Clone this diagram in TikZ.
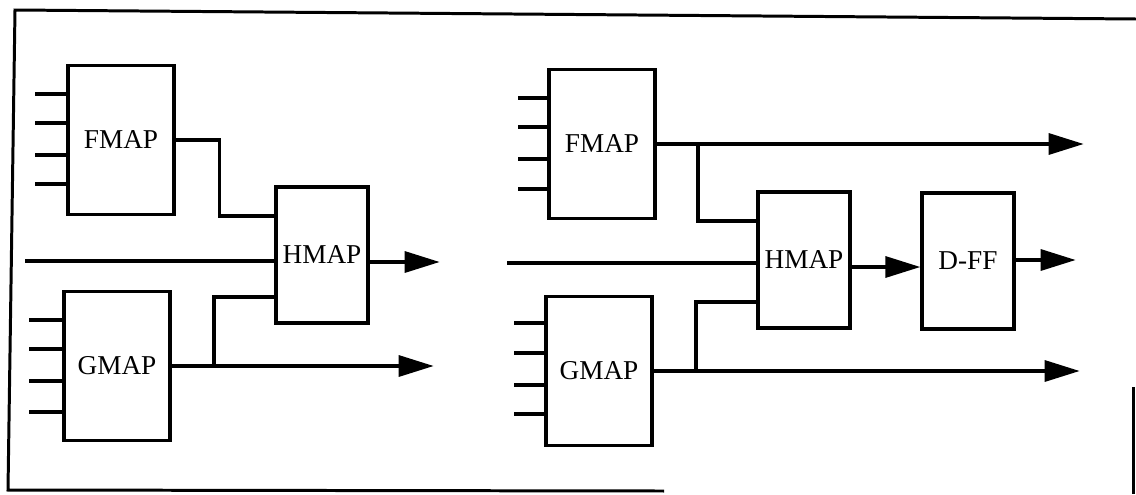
\documentclass[tikz,border=0pt]{standalone}
\usepackage{fontspec}
\setmainfont{Liberation Serif}
\usetikzlibrary{arrows.meta,positioning}

\begin{document}
\begin{tikzpicture}[x=0.02cm, y=-0.02cm,
  blk/.style={draw, line width=1.9pt, inner sep=0pt, minimum width=2.12cm, minimum height=2.98cm,
              font=\fontsize{15.5}{18}\selectfont},
  hblk/.style={blk, minimum width=1.84cm, minimum height=2.72cm},
  sig/.style={line width=1.9pt},
  sigarrow/.style={sig, -{Triangle[length=7mm,width=4.2mm]}}]
\useasboundingbox (0,0) rectangle (1136,494);
\draw[line width=1.7pt] (1136,19) -- (15,10) -- (8,490) -- (664,491);
\draw[line width=1.7pt] (1133,387) -- (1133,494);

\node[blk] (fl) at (121,140) {FMAP};
\node[blk] (gl) at (117,366) {GMAP};
\node[hblk] (hl) at (322,255) {HMAP};
\foreach \y in {94,123,155,184} \draw[sig] (fl.west |- 0,\y) -- ++(-31,0);
\foreach \y in {320,349,381,412} \draw[sig] (gl.west |- 0,\y) -- ++(-33,0);
\draw[sig] (fl.east) -- ++(44,0) |- (hl.west |- 0,216);
\draw[sig] (hl.west |- 0,261) -- ++(-249,0);
\draw[sigarrow] (hl.east |- 0,262) -- ++(70,0);
\draw[sigarrow] (gl.east) -- ++(262,0);
\draw[sig] (gl.east -| 214,0) |- (hl.west |- 0,297);

\node[blk] (fr) at (602,144) {FMAP};
\node[blk] (gr) at (599,371) {GMAP};
\node[hblk] (hr) at (804,260) {HMAP};
\node[hblk] (dff) at (968,261) {D-FF};
\foreach \y in {98,127,159,189} \draw[sig] (fr.west |- 0,\y) -- ++(-29,0);
\foreach \y in {323,353,385,414} \draw[sig] (gr.west |- 0,\y) -- ++(-30,0);
\draw[sigarrow] (fr.east) -- ++(427,0);
\draw[sig] (fr.east -| 698,0) |- (hr.west |- 0,221);
\draw[sig] (hr.west |- 0,263) -- ++(-249,0);
\draw[sigarrow] (hr.east |- 0,267) -- (dff.west |- 0,267);
\draw[sigarrow] (dff.east |- 0,260) -- ++(60,0);
\draw[sigarrow] (gr.east) -- ++(426,0);
\draw[sig] (gr.east -| 696,0) |- (hr.west |- 0,302);
\end{tikzpicture}
\end{document}
